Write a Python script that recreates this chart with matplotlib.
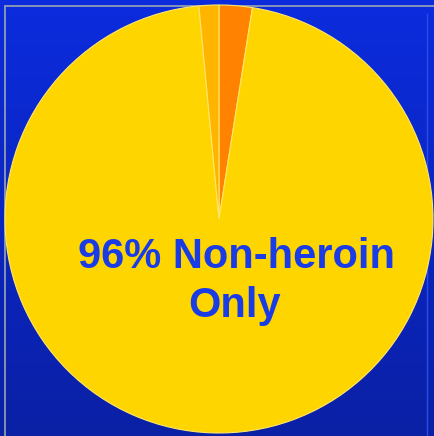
import matplotlib.pyplot as plt
import numpy as np
from matplotlib.patches import Rectangle

# share of cases (percent)
categories = ["Heroin only", "Non-heroin only", "Heroin + non-heroin"]
shares = [2.5, 96, 1.5]
colors = ["#FF8200", "#FFD500", "#FFB400"]

label_main = "96% Non-heroin"
label_sub = "Only"

W, H = 434, 436
fig = plt.figure(figsize=(W / 100, H / 100), dpi=100)
ax = fig.add_axes([0, 0, 1, 1])
ax.set_xlim(0, W)
ax.set_ylim(0, H)
ax.set_aspect("equal")
ax.axis("off")

# blue backdrop, a little darker towards the bottom
top = np.array([12, 44, 222]) / 255
bottom = np.array([10, 32, 165]) / 255
t = np.linspace(0, 1, 256)[:, None]
grad = top * (1 - t) + bottom * t
ax.imshow(grad[:, None, :].repeat(2, axis=1), extent=[0, W, 0, H],
          aspect="auto", zorder=0)

# thin frame lines
ax.add_patch(Rectangle((5, -10), W + 20, H - 6 + 10, fill=False,
                       edgecolor="#9AA6B0", linewidth=1.2, zorder=1))
ax.plot([427, 427], [0, H - 14], color="#2A4CE8", linewidth=1, zorder=1)

ax.pie(shares, colors=colors, startangle=90, counterclock=False,
       center=(219, H - 219), radius=214, frame=True,
       wedgeprops=dict(edgecolor="#FFE66A", linewidth=0.8, zorder=2))
ax.set_xlim(0, W)
ax.set_ylim(0, H)
ax.axis("off")

txt = dict(color="#1A3CE6", fontsize=30, fontweight="bold",
           family="Liberation Sans", ha="center", va="baseline", zorder=5)
ax.text(236, H - 268, label_main, **txt)
ax.text(235, H - 317, label_sub, **txt)

fig.savefig("out.png", dpi=100)
